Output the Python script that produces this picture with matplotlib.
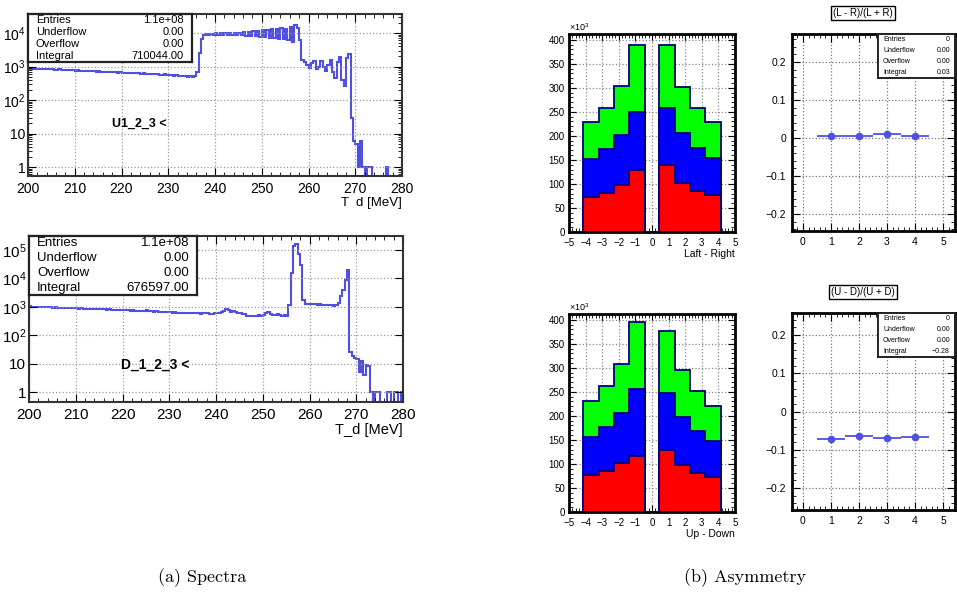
import numpy as np
import matplotlib
matplotlib.use('Agg')
import matplotlib.pyplot as plt
from matplotlib.ticker import MultipleLocator, FuncFormatter, LogLocator, NullFormatter

# Fonts (ROOT look ~ Helvetica)
plt.rcParams['font.family'] = ['Liberation Sans', 'DejaVu Sans']
plt.rcParams['mathtext.fontset'] = 'custom'
plt.rcParams['mathtext.rm'] = 'Liberation Sans'
plt.rcParams['mathtext.it'] = 'Liberation Sans:italic'
plt.rcParams['mathtext.bf'] = 'Liberation Sans:bold'

# ---------------- data ----------------
# spectra, 0.5 MeV bins from 200 to 280 MeV
u_counts = [
    880, 860, 870, 850, 860, 840, 850, 830, 840, 820,
    830, 810, 800, 820, 790, 800, 780, 790, 770, 780,
    760, 770, 750, 760, 740, 730, 750, 720, 730, 710,
    720, 700, 690, 710, 680, 690, 670, 680, 660, 670,
    650, 660, 640, 650, 630, 640, 620, 630, 610, 620,
    600, 610, 590, 600, 580, 590, 570, 560, 580, 550,
    540, 550, 530, 540, 520, 530, 510, 520, 500, 510,
    500, 520, 700, 2600, 6500, 8800, 9400, 9000, 9600, 8800,
    9700, 8900, 9800, 9000, 9900, 8800, 10000, 8900, 10200, 8700,
    10300, 8600, 10500, 8400, 10800, 8200, 11200, 8000, 11500, 7800,
    12000, 7500, 12500, 7200, 13000, 7000, 13500, 6800, 14000, 6500,
    13000, 6300, 15000, 5500, 17500, 14000, 6000, 1600, 1400, 1100,
    900, 1300, 1500, 850, 1000, 1450, 1000, 750, 1100, 1600,
    700, 450, 1400, 1900, 400, 260, 1800, 2300, 30, 6,
    5, 1, 6, 1, 0, 1, 1, 0, 0, 0,
    0, 0, 0, 1, 0, 0, 0, 0, 0, 0,
]
d_counts = [
    1050, 1000, 1020, 990, 1000, 980, 960, 990, 950, 970,
    940, 960, 930, 920, 940, 910, 900, 920, 890, 880,
    900, 870, 880, 860, 870, 850, 860, 840, 850, 830,
    840, 820, 830, 800, 810, 790, 800, 780, 790, 770,
    780, 760, 770, 740, 750, 730, 740, 720, 710, 700,
    760, 720, 690, 680, 700, 670, 660, 680, 650, 640,
    650, 630, 640, 620, 630, 600, 620, 610, 590, 600,
    610, 590, 600, 580, 590, 600, 620, 580, 570, 600,
    610, 590, 640, 700, 820, 760, 650, 700, 680, 620,
    600, 580, 560, 480, 470, 480, 490, 470, 500, 490,
    520, 600, 640, 560, 520, 510, 540, 520, 490, 500,
    470, 1200, 15000, 140000, 165000, 70000, 30000, 1700, 1300, 1250,
    1300, 1250, 1300, 1200, 1250, 1200, 1150, 1200, 1150, 1150,
    1100, 1150, 1400, 2500, 3800, 9000, 19000, 25, 18, 16,
    15, 5, 12, 4, 9, 8, 1, 0, 1, 1,
    0, 0, 0, 1, 1, 0, 1, 1, 0, 1,
]
u_stats = [('Entries', '1.1e+08'), ('Underflow', '0.00'), ('Overflow', '0.00'), ('Integral', '710044.00')]
d_stats = [('Entries', '1.1e+08'), ('Underflow', '0.00'), ('Overflow', '0.00'), ('Integral', '676597.00')]

# strip histograms (x10^3), gap bins are empty
strip_edges = [-5, -4.15, -3.22, -2.3, -1.37, -0.45, 0.45, 1.37, 2.3, 3.22, 4.15, 5]
lr_red = [0, 72, 82, 97, 130, 0, 140, 101, 86, 76, 0]
lr_blue = [0, 152, 172, 202, 249, 0, 257, 205, 175, 154, 0]
lr_green = [0, 229, 259, 304, 389, 0, 389, 302, 257, 228, 0]
ud_red = [0, 76, 86, 101, 116, 0, 129, 97, 82, 72, 0]
ud_blue = [0, 156, 176, 207, 256, 0, 247, 198, 168, 148, 0]
ud_green = [0, 231, 262, 309, 396, 0, 377, 295, 251, 220, 0]

# asymmetries
asym_x = [1, 2, 3, 4]
lr_asym = [0.005, 0.006, 0.010, 0.006]
ud_asym = [-0.072, -0.065, -0.068, -0.067]
lr_asym_stats = [('Entries', '0'), ('Underflow', '0.00'), ('Overflow', '0.00'), ('Integral', '0.03')]
ud_asym_stats = [('Entries', '0'), ('Underflow', '0.00'), ('Overflow', '0.00'), ('Integral', '\u22120.28')]

# ---------------- layout helpers ----------------
W, H = 957, 598
fig = plt.figure(figsize=(W / 100, H / 100), dpi=100)
line_col = '#5050e0'


def rect(x0, y0, x1, y1):
    return [x0 / W, 1 - y1 / H, (x1 - x0) / W, (y1 - y0) / H]


def stats_box(x0, y0, x1, y1, rows, fs, pad, lw):
    b = fig.add_axes(rect(x0, y0, x1, y1))
    b.set_xticks([])
    b.set_yticks([])
    b.set_zorder(10)
    for s in b.spines.values():
        s.set_linewidth(lw)
        s.set_color('#222222')
    px = pad / (x1 - x0)
    for i, (lab, val) in enumerate(rows):
        yy = 1 - (i + 0.5) / len(rows)
        b.text(px, yy, lab, fontsize=fs, ha='left', va='center', transform=b.transAxes)
        b.text(1 - px, yy, val, fontsize=fs, ha='right', va='center', transform=b.transAxes)
    return b


def frame(ax, lw):
    for s in ax.spines.values():
        s.set_linewidth(lw)
    ax.tick_params(which='both', direction='in', top=True, right=True)
    ax.tick_params(which='major', length=6)
    ax.tick_params(which='minor', length=3)


def spectrum(box, counts, ymin, ymax, fs, label, lx, ly, xlabel, stats, sbox, sfs):
    ax = fig.add_axes(rect(*box))
    counts = np.array(counts, dtype=float)
    edges = np.linspace(200, 280, len(counts) + 1)
    shown = np.where(counts > 0, counts, ymin / 10)
    ax.stairs(shown, edges, baseline=ymin / 10, color=line_col, lw=1.5)
    ax.set_yscale('log')
    ax.set_xlim(200, 280)
    ax.set_ylim(ymin, ymax)
    decades = [1, 10, 1e2, 1e3, 1e4, 1e5]
    labs = ['1', '10', '$10^{2}$', '$10^{3}$', '$10^{4}$', '$10^{5}$']
    keep = [i for i, d in enumerate(decades) if ymin < d < ymax]
    ax.set_yticks([decades[i] for i in keep])
    ax.set_yticklabels([labs[i] for i in keep], fontsize=fs)
    ax.yaxis.set_minor_locator(LogLocator(subs=np.arange(2, 10)))
    ax.yaxis.set_minor_formatter(NullFormatter())
    ax.xaxis.set_major_locator(MultipleLocator(10))
    ax.xaxis.set_minor_locator(MultipleLocator(2))
    ax.tick_params(axis='x', labelsize=fs, pad=4)
    ax.tick_params(axis='y', pad=2)
    ax.grid(True, which='major', ls=':', color='#999999', lw=0.9)
    frame(ax, 1.5)
    for s in ax.spines.values():
        s.set_color('#333333')
    ax.text(lx, ly, label, fontsize=fs - 1, fontweight='bold', transform=ax.transAxes, ha='left', va='center')
    ax.set_xlabel(xlabel, fontsize=fs - 0.5, loc='right', labelpad=1)
    stats_box(*sbox, stats, sfs, 8, 1.6)
    return ax


def strips(box, red, blue, green, xlabel):
    ax = fig.add_axes(rect(*box))
    for vals, col in [(green, '#00ff00'), (blue, '#0000ff'), (red, '#ff0000')]:
        ax.stairs(vals, strip_edges, baseline=0, fill=True, color=col, zorder=2)
    for vals in [green, blue, red]:
        ax.stairs(vals, strip_edges, baseline=0, color='#00007a', lw=1.3, zorder=3)
    ax.set_xlim(-5, 5)
    ax.set_ylim(0, 412)
    ax.set_axisbelow(True)
    ax.xaxis.set_major_locator(MultipleLocator(1))
    ax.xaxis.set_minor_locator(MultipleLocator(0.2))
    ax.yaxis.set_major_locator(MultipleLocator(50))
    ax.yaxis.set_minor_locator(MultipleLocator(10))
    ax.xaxis.set_major_formatter(FuncFormatter(lambda v, _: ('%d' % round(v)).replace('-', '\u2212')))
    ax.grid(True, which='major', ls=':', color='#888888', lw=0.9)
    frame(ax, 2)
    ax.tick_params(which='major', length=5)
    ax.tick_params(axis='x', labelsize=7, pad=4)
    ax.tick_params(axis='y', labelsize=7, pad=3)
    ax.text(0, 1.005, r'$\times10^{3}$', fontsize=6.5, transform=ax.transAxes, ha='left', va='bottom')
    ax.set_xlabel(xlabel, fontsize=7.5, loc='right', labelpad=1)
    return ax


def asym(box, vals, ymin, ymax, title, tx, ty, stats, sbox):
    ax = fig.add_axes(rect(*box))
    ax.errorbar(asym_x, vals, xerr=0.5, yerr=0.002, fmt='o', ms=4.5, color=line_col,
                elinewidth=1.3, capsize=0, zorder=3)
    ax.set_xlim(-0.39, 5.43)
    ax.set_ylim(ymin, ymax)
    ax.xaxis.set_major_locator(MultipleLocator(1))
    ax.xaxis.set_minor_locator(MultipleLocator(0.2))
    ax.yaxis.set_major_locator(MultipleLocator(0.1))
    ax.yaxis.set_minor_locator(MultipleLocator(0.02))
    ax.yaxis.set_major_formatter(FuncFormatter(lambda v, _: ('%g' % (round(v, 2) + 0.0)).replace('-', '\u2212')))
    ax.tick_params(labelsize=7.5, pad=4)
    ax.grid(True, which='major', ls=':', color='#777777', lw=0.9)
    frame(ax, 2)
    fig.text(tx / W, 1 - ty / H, title, fontsize=7, ha='center', va='center',
             bbox=dict(boxstyle='square,pad=0.25', fc='white', ec='black', lw=1))
    stats_box(*sbox, stats, 5, 5, 1.4)
    return ax


# ---------------- panels ----------------
spectrum((28, 14, 402, 176), u_counts, 0.54, 37000, 10, 'U1_2_3 <', 0.225, 0.32,
         'T  d [MeV]', u_stats, (28, 14, 192, 62), 8)
spectrum((29, 236, 403, 402), d_counts, 0.45, 3.1e5, 11, 'D_1_2_3 <', 0.245, 0.225,
         'T_d [MeV]', d_stats, (29, 236, 197, 295), 9.5)

strips((569, 34, 735, 232), lr_red, lr_blue, lr_green, 'Laft - Right')
strips((569, 314, 735, 512), ud_red, ud_blue, ud_green, 'Up - Down')

asym((792, 34, 955, 231), lr_asym, -0.245, 0.274, '(L - R)/(L + R)', 863, 13,
     lr_asym_stats, (878, 34, 955, 78))
asym((792, 313, 955, 510), ud_asym, -0.257, 0.257, '(U - D)/(U + D)', 863, 292,
     ud_asym_stats, (878, 313, 955, 357))

# captions
fig.text(202 / W, 1 - 578 / H, '(a) Spectra', fontsize=13, family='cmr10', ha='center', va='center')
fig.text(745 / W, 1 - 578 / H, '(b) Asymmetry', fontsize=13, family='cmr10', ha='center', va='center')

fig.savefig('out.png', dpi=100)
